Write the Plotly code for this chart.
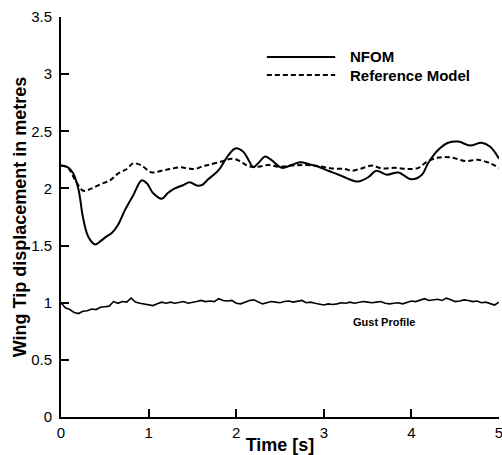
import plotly.graph_objects as go

# ---- data ----
nfom_t = [0, 0.08, 0.14, 0.20, 0.25, 0.31, 0.39, 0.445, 0.52, 0.58, 0.65, 0.73, 0.825, 0.92, 0.98,
          1.05, 1.15, 1.22, 1.30, 1.40, 1.47, 1.55, 1.61, 1.68, 1.80, 1.91, 1.99, 2.08, 2.14, 2.195,
          2.25, 2.33, 2.40, 2.52, 2.63, 2.73, 2.84, 2.94, 3.05, 3.17, 3.26, 3.39, 3.51, 3.60, 3.72,
          3.85, 4.00, 4.12, 4.19, 4.31, 4.42, 4.535, 4.67, 4.80, 4.90, 5.0]
nfom_y = [2.20, 2.185, 2.13, 1.99, 1.75, 1.58, 1.51, 1.535, 1.58, 1.61, 1.68, 1.81, 1.94, 2.07, 2.045,
          1.96, 1.91, 1.96, 2.00, 2.03, 2.055, 2.025, 2.03, 2.08, 2.16, 2.29, 2.35, 2.32, 2.25, 2.185,
          2.22, 2.28, 2.25, 2.18, 2.205, 2.23, 2.21, 2.19, 2.155, 2.12, 2.09, 2.06, 2.10, 2.155, 2.12,
          2.14, 2.08, 2.12, 2.22, 2.34, 2.40, 2.41, 2.375, 2.40, 2.365, 2.26]

ref_t = [0, 0.08, 0.16, 0.255, 0.35, 0.46, 0.56, 0.65, 0.75, 0.825, 0.92, 1.035, 1.15, 1.245, 1.36,
         1.45, 1.53, 1.62, 1.68, 1.83, 1.95, 2.04, 2.14, 2.25, 2.37, 2.48, 2.63, 2.785, 2.94, 3.09,
         3.24, 3.32, 3.43, 3.55, 3.66, 3.81, 3.965, 4.08, 4.17, 4.31, 4.46, 4.61, 4.76, 4.90, 5.0]
ref_y = [2.20, 2.18, 2.075, 1.98, 2.00, 2.04, 2.07, 2.13, 2.17, 2.22, 2.20, 2.14, 2.155, 2.17, 2.185,
         2.175, 2.17, 2.195, 2.205, 2.235, 2.26, 2.24, 2.195, 2.19, 2.205, 2.19, 2.20, 2.205, 2.195, 2.175,
         2.17, 2.155, 2.175, 2.20, 2.175, 2.18, 2.17, 2.18, 2.23, 2.27, 2.27, 2.24, 2.25, 2.22, 2.18]

gust_y = [1.00, 0.955, 0.94, 0.915, 0.905, 0.925, 0.93, 0.945, 0.94, 0.96, 0.965, 0.97, 1.01, 0.995,
          1.01, 1.005, 1.04, 1.005, 0.995, 0.99, 0.98, 0.975, 0.99, 1.005, 0.995, 1.005, 0.995, 1.00,
          1.01, 0.995, 1.00, 1.01, 1.02, 1.01, 1.015, 1.01, 1.035, 1.02, 1.015, 1.02, 0.995, 0.99,
          1.005, 1.02, 1.025, 1.005, 0.99, 1.00, 1.01, 1.005, 1.00, 1.01, 1.015, 1.005, 1.015, 1.02,
          1.00, 1.005, 0.995, 0.99, 0.98, 0.99, 0.985, 0.99, 1.00, 0.995, 1.005, 0.995, 1.00, 1.01,
          1.005, 1.00, 1.005, 1.01, 0.995, 0.99, 0.995, 1.00, 0.99, 1.00, 1.015, 1.01, 1.02, 1.035,
          1.02, 1.025, 1.03, 1.02, 1.04, 1.025, 1.01, 1.015, 1.025, 1.02, 1.01, 1.015, 1.00, 1.005,
          0.995, 0.98, 1.005]
gust_dt = 0.05
gust_t = [round(i * gust_dt, 3) for i in range(len(gust_y))]

x_ticks = [0, 1, 2, 3, 4, 5]
y_ticks = [0, 0.5, 1, 1.5, 2, 2.5, 3, 3.5]
y_tick_text = ["0", "0.5", "1", "1.5", "2", "2.5", "3", "3.5"]

FONT = "Liberation Sans, Arial, sans-serif"

fig = go.Figure()
fig.add_trace(go.Scatter(x=nfom_t, y=nfom_y, mode="lines", name="NFOM",
                         line=dict(color="black", width=2, shape="spline", smoothing=1.0),
                         showlegend=False))
fig.add_trace(go.Scatter(x=ref_t, y=ref_y, mode="lines", name="Reference Model",
                         line=dict(color="black", width=2, dash="5px,3px", shape="spline", smoothing=1.0),
                         showlegend=False))
fig.add_trace(go.Scatter(x=gust_t, y=gust_y, mode="lines", name="Gust Profile",
                         line=dict(color="black", width=1.6),
                         showlegend=False))

# legend drawn as short sample lines + labels
fig.add_shape(type="line", xref="paper", yref="paper", x0=0.470, x1=0.626, y0=0.900, y1=0.900,
              line=dict(color="black", width=2))
fig.add_shape(type="line", xref="paper", yref="paper", x0=0.470, x1=0.626, y0=0.855, y1=0.855,
              line=dict(color="black", width=2, dash="5px,3px"))
fig.add_annotation(xref="paper", yref="paper", x=0.655, y=0.900, text="<b>NFOM</b>", showarrow=False,
                   xanchor="left", yanchor="middle", font=dict(family=FONT, size=15, color="black"))
fig.add_annotation(xref="paper", yref="paper", x=0.655, y=0.855, text="<b>Reference Model</b>",
                   showarrow=False, xanchor="left", yanchor="middle",
                   font=dict(family=FONT, size=15, color="black"))
fig.add_annotation(x=3.69, y=0.83, text="<b>Gust Profile</b>", showarrow=False,
                   xanchor="center", yanchor="middle", font=dict(family=FONT, size=11, color="black"))

fig.update_layout(
    width=502, height=455,
    margin=dict(l=61, r=3, t=17, b=38, autoexpand=False),
    paper_bgcolor="white", plot_bgcolor="white",
    font=dict(family=FONT, color="black"),
)
fig.update_xaxes(range=[0, 5], tickvals=x_ticks, ticktext=[str(v) for v in x_ticks],
                 showline=True, linecolor="black", linewidth=2, mirror=False,
                 ticks="inside", ticklen=8, tickwidth=2, tickcolor="black", automargin=False,
                 ticklabeloverflow="allow", ticklabelstandoff=1,
                 showgrid=False, zeroline=False, tickfont=dict(size=15, family=FONT),
                 title=dict(text="<b>Time [s]</b>", font=dict(size=18, family=FONT), standoff=0))
fig.update_yaxes(range=[0, 3.5], tickvals=y_ticks, ticktext=y_tick_text,
                 showline=True, linecolor="black", linewidth=2, mirror=False,
                 ticks="inside", ticklen=8, tickwidth=2, tickcolor="black", automargin=False,
                 ticklabelstandoff=4, ticklabeloverflow="allow",
                 showgrid=False, zeroline=False, tickfont=dict(size=15, family=FONT),
                 title=dict(text="<b>Wing Tip displacement in metres</b>", font=dict(size=18, family=FONT),
                            standoff=0))

# remove the page's default body margin so the 502x455 figure fills the window exactly
fig.write_html("out.html", config={"displayModeBar": False},
               post_script="document.body.style.margin='0';document.body.style.overflow='hidden';")
